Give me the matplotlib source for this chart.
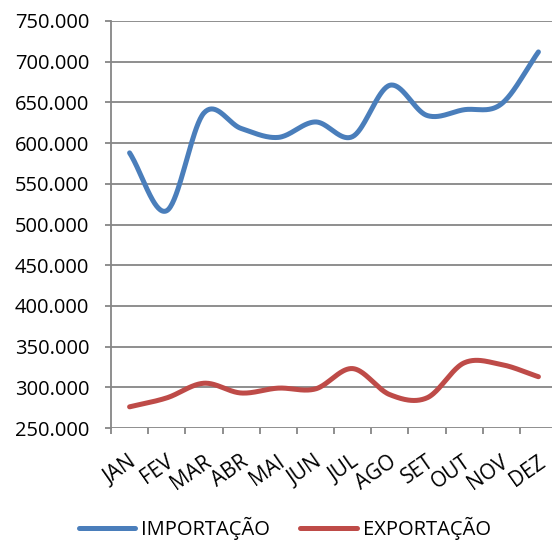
import numpy as np
import matplotlib
matplotlib.use('Agg')
import matplotlib.pyplot as plt
from matplotlib.ticker import FuncFormatter, FixedLocator
import matplotlib.transforms as mtransforms

months = ['JAN', 'FEV', 'MAR', 'ABR', 'MAI', 'JUN', 'JUL', 'AGO', 'SET', 'OUT', 'NOV', 'DEZ']
importacao = [588000, 517000, 637000, 618000, 607000, 626000, 608000, 671000, 634000, 641000, 648000, 712000]
exportacao = [276000, 287000, 305000, 293000, 299000, 298000, 323000, 291000, 287000, 330000, 328000, 313000]

plt.rcParams['font.family'] = ['Open Sans', 'DejaVu Sans']
plt.rcParams['font.size'] = 14.5


def smooth(y, n=40):
    # catmull-rom curve through the points, like excel's smoothed line
    y = np.asarray(y, float)
    x = np.arange(len(y), dtype=float)
    p = np.concatenate([[2 * y[0] - y[1]], y, [2 * y[-1] - y[-2]]])
    xs, ys = [], []
    for i in range(len(y) - 1):
        t = np.linspace(0, 1, n, endpoint=False)
        p0, p1, p2, p3 = p[i], p[i + 1], p[i + 2], p[i + 3]
        yy = 0.5 * ((2 * p1) + (-p0 + p2) * t + (2 * p0 - 5 * p1 + 4 * p2 - p3) * t ** 2
                    + (-p0 + 3 * p1 - 3 * p2 + p3) * t ** 3)
        xs.append(x[i] + t)
        ys.append(yy)
    xs.append([x[-1]])
    ys.append([y[-1]])
    return np.concatenate(xs), np.concatenate(ys)


fig = plt.figure(figsize=(5.52, 5.41), dpi=100)
ax = fig.add_axes([111 / 552, 113 / 541, 446 / 552, 407 / 541])

gray = '#868686'
x1, y1 = smooth(importacao)
x2, y2 = smooth(exportacao)
ax.plot(x1, y1, color='#4a7ebb', lw=3.6, solid_capstyle='round', label='IMPORTAÇÃO', zorder=3)
ax.plot(x2, y2, color='#be4b48', lw=3.6, solid_capstyle='round', label='EXPORTAÇÃO', zorder=3)

ax.set_xlim(-0.5, 11.5)
ax.set_ylim(250000, 750000)
ax.set_yticks(np.arange(250000, 750001, 50000))
ax.yaxis.set_major_formatter(FuncFormatter(lambda v, p: f"{int(v):,}".replace(',', '.')))
ax.grid(axis='y', color=gray, lw=1.3)
ax.set_axisbelow(True)

for s in ['top', 'right', 'bottom']:
    ax.spines[s].set_visible(False)
ax.spines['left'].set_color(gray)
ax.spines['left'].set_linewidth(1.3)

ax.tick_params(axis='y', direction='out', length=4.5, width=1.3, color=gray, pad=11, labelcolor='black')

ax.set_xticks(range(12))
ax.set_xticklabels(months, rotation=35, ha='right', va='center', rotation_mode='anchor', fontsize=15)
ax.xaxis.set_minor_locator(FixedLocator(np.arange(-0.5, 12, 1)))
ax.tick_params(axis='x', which='major', length=0, pad=23)
ax.tick_params(axis='x', which='minor', direction='out', length=4.5, width=1.3, color=gray)
off = mtransforms.ScaledTranslation(5 / 100, 0, fig.dpi_scale_trans)
for lab in ax.get_xticklabels():
    lab.set_transform(lab.get_transform() + off)

ax.legend(loc='center', bbox_to_anchor=(0.516, 0.024), bbox_transform=fig.transFigure,
          ncol=2, frameon=False, handlelength=2.8, handletextpad=0.3, columnspacing=1.5)

fig.savefig('out.png', dpi=100)
